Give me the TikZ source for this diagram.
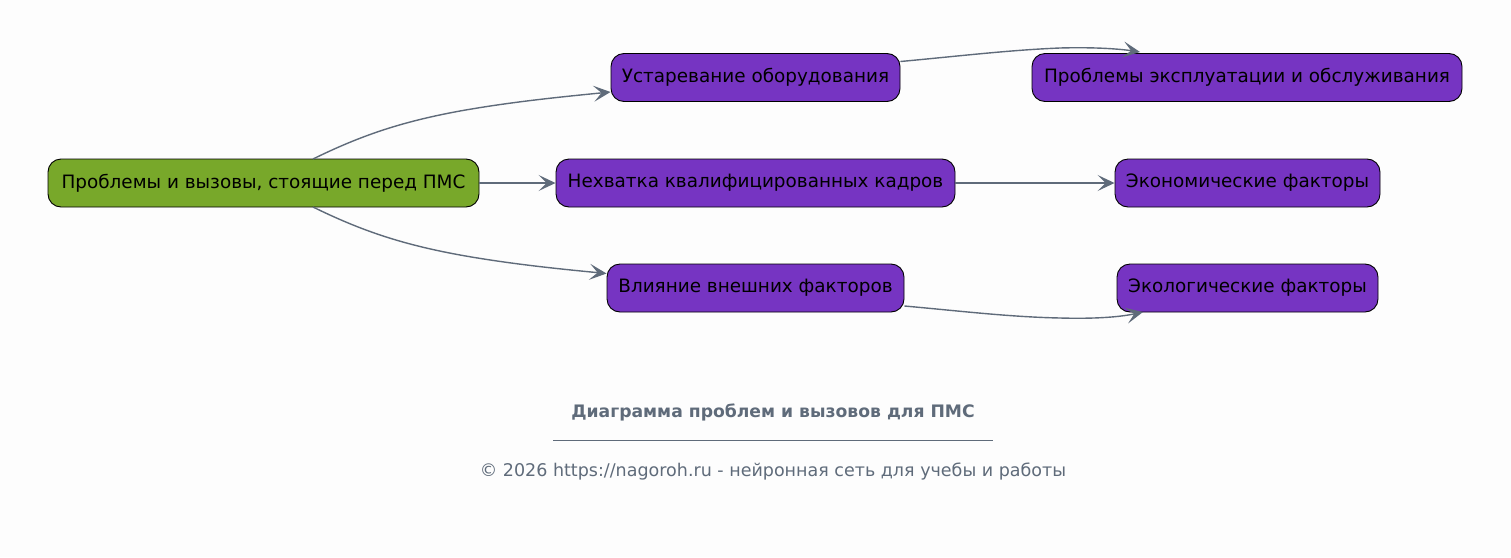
\documentclass[tikz,border=0pt]{standalone}
\usepackage{fontspec}
\setmainfont{DejaVu Sans}
\usetikzlibrary{arrows.meta}
\definecolor{bg}{HTML}{FDFDFD}
\definecolor{purp}{HTML}{7634C2}
\definecolor{grn}{HTML}{78A82A}
\definecolor{edge}{HTML}{5F6B7A}
\tikzset{
  box/.style={draw=black, line width=0.9pt, rounded corners=13pt, minimum height=48pt, inner sep=0pt, font=\fontsize{18.4}{21}\selectfont, text=black},
  pbox/.style={box, fill=purp},
  gbox/.style={box, fill=grn},
  conn/.style={draw=edge, line width=1.4pt, -{Stealth[length=17pt,width=16pt,inset=8pt]}},
}
\begin{document}
\begin{tikzpicture}[x=1pt,y=-1pt]
\fill[bg] (0,0) rectangle (1511,557);
\useasboundingbox (0,0) rectangle (1511,557);
\node[gbox, minimum width=431pt] (root) at (263.5,183) {Проблемы и вызовы, стоящие перед ПМС};
\node[pbox, minimum width=289pt] (u) at (755.5,77.5) {Устаревание оборудования};
\node[pbox, minimum width=430pt] (pe) at (1247,77.5) {Проблемы эксплуатации и обслуживания};
\node[pbox, minimum width=399pt] (n) at (755.5,183) {Нехватка квалифицированных кадров};
\node[pbox, minimum width=265pt] (ek) at (1247.5,183) {Экономические факторы};
\node[pbox, minimum width=297pt] (v) at (755.5,288) {Влияние внешних факторов};
\node[pbox, minimum width=261pt] (eco) at (1247.5,288) {Экологические факторы};
\coordinate (rt) at (313,159);
\coordinate (rb) at (313,207);
\coordinate (ue) at ([yshift=-14.5pt]u.west);
\coordinate (ve) at ([yshift=14.5pt]v.west);
\coordinate (us) at ([yshift=16pt]u.east);
\coordinate (pet) at (1140,52);
\coordinate (vs) at ([yshift=-18pt]v.east);
\coordinate (ecob) at (1143,312);
\draw[conn] (rt) .. controls (360,136) and (400,122) .. (460,111) .. controls (510,102) and (560,97) .. (ue);
\draw[conn] (rb) .. controls (360,230) and (400,244) .. (460,255) .. controls (510,264) and (560,269) .. (ve);
\draw[conn] (root.east) -- (n.west);
\draw[conn] (n.east) -- (ek.west);
\draw[conn] (us) .. controls (960,56) and (1010,50) .. (1060,48) .. controls (1095,47) and (1120,49) .. (pet);
\draw[conn] (vs) .. controls (960,311) and (1010,317) .. (1060,318) .. controls (1095,319) and (1120,317) .. (ecob);
\node[font=\bfseries\fontsize{17.2}{19}\selectfont, text=edge] (title) at (773,412) {Диаграмма проблем и вызовов для ПМС};
\coordinate (l1) at (553,440);
\coordinate (l2) at (993,440);
\draw[edge, line width=0.6pt] (l1) -- (l2);
\node[font=\fontsize{17.5}{20}\selectfont, text=edge] (foot) at (773,472) {© 2026 https://nagoroh.ru - нейронная сеть для учебы и работы};
\end{tikzpicture}
\end{document}
